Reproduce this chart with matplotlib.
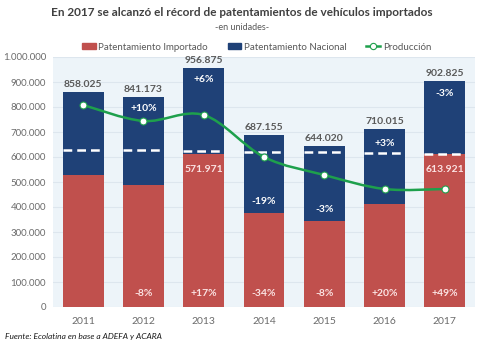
import matplotlib
matplotlib.use("Agg")
import matplotlib.pyplot as plt
from matplotlib.path import Path
from matplotlib.patches import PathPatch, Patch
from matplotlib.lines import Line2D
from matplotlib.ticker import FuncFormatter
import numpy as np

plt.rcParams['font.family'] = ['Lato', 'DejaVu Sans']

years = ["2011", "2012", "2013", "2014", "2015", "2016", "2017"]
importado = [530000, 487000, 614000, 377000, 346000, 412000, 613921]
totales = [858025, 841173, 956875, 687155, 644020, 710015, 902825]
nacional = [t - i for t, i in zip(totales, importado)]
produccion = [808000, 744000, 768000, 600000, 528000, 472000, 472000]
referencia = [628000, 628000, 626000, 620000, 620000, 616000, 613921]
var_nacional = ["", "+10%", "+6%", "-19%", "-3%", "+3%", "-3%"]
var_importado = ["", "-8%", "+17%", "-34%", "-8%", "+20%", "+49%"]
etiqueta_importado = ["", "", "571.971", "", "", "", "613.921"]

RED = "#c0504d"
BLUE = "#1f4177"
GREEN = "#1ea04c"
BG = "#edf4f9"

fig = plt.figure(figsize=(4.84, 3.51), dpi=100)
ax = fig.add_axes([53/484, 1-307/351, 422/484, 250/351])
ax.set_facecolor(BG)

x = np.arange(len(years))
w = 0.68
ax.bar(x, importado, width=w, color=RED, zorder=2)
ax.bar(x, nacional, width=w, bottom=importado, color=BLUE, zorder=2)

# dashed reference segments
for xi, r in zip(x, referencia):
    ax.plot([xi - w/2, xi + w/2], [r, r], color="white", lw=1.8,
            dashes=(3.5, 2), zorder=3)

# smoothed production line (Bezier through points)
pts = np.column_stack([x, produccion]).astype(float)
n = len(pts)
verts = [tuple(pts[0])]
codes = [Path.MOVETO]
for i in range(n - 1):
    p0 = pts[i - 1] if i > 0 else pts[i]
    p1 = pts[i]
    p2 = pts[i + 1]
    p3 = pts[i + 2] if i + 2 < n else pts[i + 1]
    c1 = p1 + (p2 - p0) / 6
    c2 = p2 - (p3 - p1) / 6
    verts += [tuple(c1), tuple(c2), tuple(p2)]
    codes += [Path.CURVE4] * 3
ax.add_patch(PathPatch(Path(verts, codes), facecolor="none", edgecolor=GREEN,
                       lw=1.8, zorder=4))
ax.plot(x, produccion, 'o', ms=5, mfc="white", mec=GREEN, mew=0.8, zorder=5)

# labels
for xi, t in zip(x, totales):
    ax.text(xi, t + 12000, f"{t:,}".replace(",", "."), ha="center", va="bottom",
            fontsize=7.5, fontweight="bold", color="#595959")

for xi, lab, t, imp in zip(x, var_nacional, totales, importado):
    if not lab:
        continue
    if xi in (3, 4):
        y = imp + 44000
    elif xi == 5:
        y = t - 58000
    else:
        y = t - 48000
    ax.text(xi, y, lab, ha="center", va="center", fontsize=7.5,
            fontweight="bold", color="white", zorder=6)

for xi, lab in zip(x, var_importado):
    if lab:
        ax.text(xi, 55000, lab, ha="center", va="center", fontsize=7.5,
                fontweight="bold", color="#fbe3e3", zorder=6)

for xi, lab, imp in zip(x, etiqueta_importado, importado):
    if lab:
        ax.text(xi, imp - 65000, lab, ha="center", va="center", fontsize=7.5,
                fontweight="bold", color="#fbe3e3", zorder=6)

ax.set_xlim(-0.5, 6.5)
ax.set_ylim(0, 1000000)
ax.set_yticks(np.arange(0, 1000001, 100000))
ax.yaxis.set_major_formatter(FuncFormatter(lambda v, p: f"{int(v):,}".replace(",", ".")))
ax.set_xticks(x)
ax.set_xticklabels(years)
ax.tick_params(axis="both", length=0, labelsize=7.5, colors="#6b6b6b")
ax.tick_params(axis="y", labelsize=7, pad=5)
ax.tick_params(axis="x", pad=7)
ax.grid(axis="y", color="#dde6ee", lw=0.8, zorder=0)
ax.set_axisbelow(True)
for s in ax.spines.values():
    s.set_visible(False)

fig.text(0.5, 1-13/351, "En 2017 se alcanzó el récord de patentamientos de vehículos importados",
         ha="center", va="center", fontsize=8.5, fontweight="bold", color="#404040")
fig.text(0.5, 1-27/351, "-en unidades-", ha="center", va="center", fontsize=6.5,
         color="#595959")

handles = [Patch(color=RED), Patch(color=BLUE),
           Line2D([0], [0], color=GREEN, lw=1.8, marker='o', ms=4.5, mfc="white",
                  mec=GREEN, mew=0.8)]
labels = ["Patentamiento Importado", "Patentamiento Nacional", "Producción"]
fig.legend(handles, labels, loc="center", bbox_to_anchor=(0.53, 1-47/351), ncol=3,
           frameon=False, fontsize=7, handlelength=1.4, handleheight=0.6,
           columnspacing=2.0, handletextpad=0.3, labelcolor="#595959")

fig.text(5/484, 1-337/351, "Fuente: Ecolatina en base a ADEFA y ACARA",
         ha="left", va="center", fontsize=6, style="italic", color="#1a1a1a")

fig.savefig("out.png", dpi=100, facecolor="white")
